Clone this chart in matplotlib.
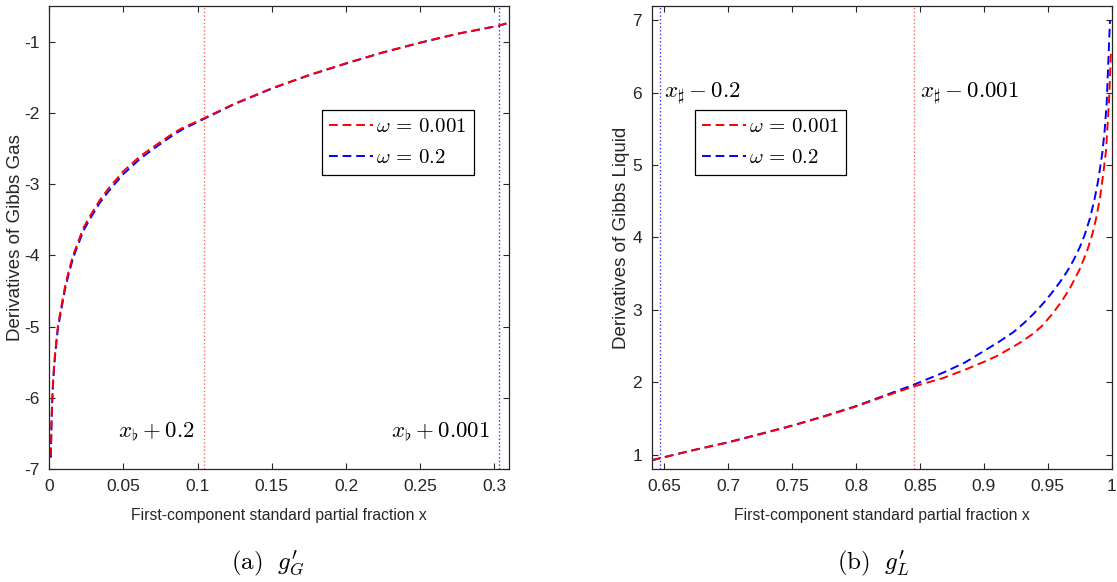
import numpy as np
import matplotlib
matplotlib.use('Agg')
from matplotlib import pyplot as plt

plt.rcParams['font.family'] = ['Liberation Sans', 'DejaVu Sans']
plt.rcParams['mathtext.fontset'] = 'cm'

# gas side
gas_x = [0.0011, 0.0015, 0.002, 0.0025, 0.0032, 0.004, 0.0058, 0.0075, 0.0106, 0.013,
         0.0162, 0.0229, 0.028, 0.0342, 0.04, 0.0499, 0.0612, 0.07, 0.0836, 0.09,
         0.1043, 0.125, 0.1506, 0.175, 0.2005, 0.225, 0.25, 0.275, 0.303, 0.31]
gas_w001 = [-6.82, -6.35, -6.02, -5.8, -5.56, -5.36, -5.0, -4.79, -4.44, -4.23,
            -3.99, -3.62, -3.43, -3.22, -3.06, -2.82, -2.61, -2.48, -2.285, -2.21,
            -2.075, -1.87, -1.65, -1.47, -1.30, -1.15, -1.014, -0.89, -0.776, -0.733]
gas_w02 = [-6.84, -6.38, -6.05, -5.83, -5.59, -5.39, -5.03, -4.83, -4.48, -4.27,
           -4.03, -3.66, -3.47, -3.26, -3.10, -2.86, -2.645, -2.51, -2.31, -2.23,
           -2.085, -1.875, -1.655, -1.473, -1.305, -1.152, -1.016, -0.891, -0.777, -0.733]

# liquid side
liq_x_w001 = [0.64, 0.67, 0.70, 0.725, 0.75, 0.775, 0.80, 0.82, 0.845, 0.868, 0.885,
              0.90, 0.91, 0.923, 0.93, 0.9386, 0.946, 0.9543, 0.961, 0.9674, 0.975,
              0.9805, 0.985, 0.9883, 0.991, 0.9935, 0.9956, 0.998, 0.9995]
liq_w001 = [0.92, 1.05, 1.166, 1.28, 1.397, 1.525, 1.664, 1.79, 1.94, 2.056, 2.17,
            2.28, 2.36, 2.49, 2.565, 2.67, 2.785, 2.96, 3.12, 3.30, 3.56,
            3.80, 4.05, 4.30, 4.56, 4.89, 5.2, 5.9, 6.6]
liq_x_w02 = [0.64, 0.67, 0.70, 0.725, 0.75, 0.775, 0.80, 0.82, 0.845, 0.868, 0.885,
             0.90, 0.912, 0.923, 0.931, 0.9386, 0.946, 0.953, 0.959, 0.9648, 0.970,
             0.9752, 0.979, 0.9831, 0.9865, 0.9896, 0.9927, 0.9945, 0.9961, 0.9987]
liq_w02 = [0.92, 1.05, 1.17, 1.285, 1.40, 1.53, 1.67, 1.80, 1.964, 2.13, 2.27,
           2.43, 2.56, 2.69, 2.81, 2.94, 3.08, 3.23, 3.37, 3.52, 3.68,
           3.87, 4.04, 4.27, 4.52, 4.80, 5.17, 5.47, 5.85, 7.0]

gas_vlines = [0.1045, 0.3032]
liq_vlines = [0.6463, 0.845]

gas_ticks = [0, 0.05, 0.1, 0.15, 0.2, 0.25, 0.3]
gas_ticklabels = ['0', '0.05', '0.1', '0.15', '0.2', '0.25', '0.3']
liq_ticks = [0.65, 0.7, 0.75, 0.8, 0.85, 0.9, 0.95, 1.0]
liq_ticklabels = ['0.65', '0.7', '0.75', '0.8', '0.85', '0.9', '0.95', '1']
legend_labels = [r'$\omega\,=\,0.001$', r'$\omega\,=\,0.2$']

axcol = '#262626'
dash = (4.5, 2.5)
fig = plt.figure(figsize=(11.17, 5.82), dpi=100)
ax1 = fig.add_axes([0.0441, 0.1942, 0.4118, 0.7955])
ax2 = fig.add_axes([0.5834, 0.1942, 0.4118, 0.7955])


def style(ax):
    for s in ax.spines.values():
        s.set_color(axcol)
        s.set_linewidth(0.9)
    ax.tick_params(direction='in', top=True, right=True, length=4, width=0.8,
                   colors=axcol, labelsize=12.5, pad=7)


def add_legend(ax, x0):
    hh = [plt.Line2D([], [], color='red', ls='--', lw=1.4, dashes=dash),
          plt.Line2D([], [], color='blue', ls='--', lw=1.4, dashes=dash)]
    lg = ax.legend(hh, legend_labels, loc='upper left',
                   bbox_to_anchor=(x0, 0.776), borderaxespad=0, fontsize=15,
                   fancybox=False, framealpha=1, edgecolor='black', handlelength=2.1,
                   handletextpad=0.15, borderpad=0.35, labelspacing=0.6)
    lg.get_frame().set_linewidth(0.9)


# left panel
ax1.plot(gas_x, gas_w02, '--', color='blue', lw=1.4, dashes=dash)
ax1.plot(gas_x, gas_w001, '--', color='red', lw=1.4, dashes=dash)
ax1.axvline(gas_vlines[0], color='red', ls=':', lw=1, alpha=0.6)
ax1.axvline(gas_vlines[1], color='blue', ls=':', lw=1, alpha=0.8)
ax1.set_xlim(0, 0.31)
ax1.set_ylim(-7, -0.5)
ax1.set_xticks(gas_ticks)
ax1.set_xticklabels(gas_ticklabels)
ax1.set_yticks([-7, -6, -5, -4, -3, -2, -1])
ax1.set_yticklabels(['-7', '-6', '-5', '-4', '-3', '-2', '-1'])
ax1.set_xlabel('First-component standard partial fraction x', fontsize=11.3, color=axcol, labelpad=10)
ax1.set_ylabel('Derivatives of Gibbs Gas', fontsize=13.5, color=axcol)
ax1.yaxis.set_label_coords(-0.054, 0.5)
ax1.text(0.0982, -6.56, r'$x_\flat + 0.2$', fontsize=16.5, ha='right', va='baseline')
ax1.text(0.2972, -6.56, r'$x_\flat + 0.001$', fontsize=16.5, ha='right', va='baseline')
add_legend(ax1, 0.593)
style(ax1)

# right panel
ax2.plot(liq_x_w02, liq_w02, '--', color='blue', lw=1.4, dashes=dash)
ax2.plot(liq_x_w001, liq_w001, '--', color='red', lw=1.4, dashes=dash)
ax2.axvline(liq_vlines[0], color='blue', ls=':', lw=1, alpha=0.8)
ax2.axvline(liq_vlines[1], color='red', ls=':', lw=1, alpha=0.6)
ax2.set_xlim(0.64, 1.0)
ax2.set_ylim(0.8, 7.2)
ax2.set_xticks(liq_ticks)
ax2.set_xticklabels(liq_ticklabels)
ax2.set_yticks([1, 2, 3, 4, 5, 6, 7])
ax2.set_xlabel('First-component standard partial fraction x', fontsize=11.3, color=axcol, labelpad=10)
ax2.set_ylabel('Derivatives of Gibbs Liquid', fontsize=13.5, color=axcol)
ax2.yaxis.set_label_coords(-0.047, 0.5)
ax2.text(0.65, 5.93, r'$x_\sharp - 0.2$', fontsize=16.5, ha='left', va='baseline')
ax2.text(0.85, 5.93, r'$x_\sharp - 0.001$', fontsize=16.5, ha='left', va='baseline')
add_legend(ax2, 0.0935)
style(ax2)

fig.text(0.24, 0.033, r"$\mathrm{(a)}\ \ g^{\prime}_{G}$", fontsize=18, ha='center', va='center')
fig.text(0.782, 0.033, r"$\mathrm{(b)}\ \ g^{\prime}_{L}$", fontsize=18, ha='center', va='center')

plt.savefig('out.png', dpi=100)
